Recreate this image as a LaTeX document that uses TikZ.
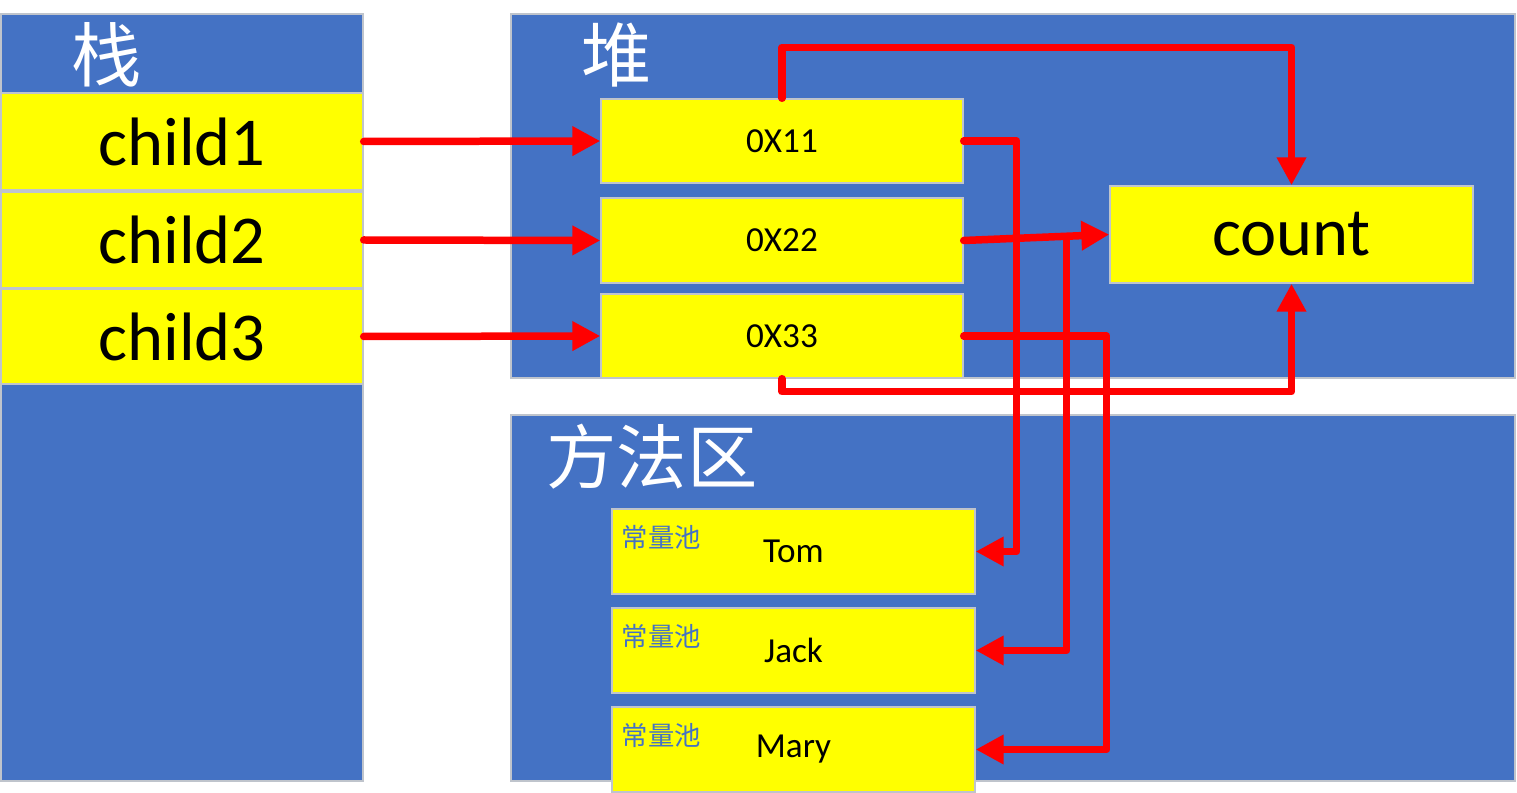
\documentclass[tikz,border=0pt]{standalone}
\usepackage{fontspec}
\setmainfont{Carlito}
\newfontfamily\cjk{Noto Sans CJK SC}
\usetikzlibrary{arrows.meta,fit,calc}
\definecolor{panelblue}{HTML}{4472C4}
\definecolor{boxyellow}{HTML}{FFFF00}
\definecolor{edgegray}{HTML}{BFC4CC}
\definecolor{arrred}{HTML}{FF0000}
\tikzset{
  panel/.style={fill=panelblue, draw=edgegray, line width=0.8pt, inner sep=0pt},
  ybox/.style={fill=boxyellow, draw=edgegray, line width=0.8pt, inner sep=0pt},
  bigtxt/.style={font=\fontsize{39}{44}\selectfont, inner sep=0pt},
  midtxt/.style={font=\fontsize{20}{24}\selectfont, inner sep=0pt},
  ttl/.style={text=white, font=\cjk\fontsize{40}{46}\selectfont, inner sep=0pt},
  pool/.style={text=panelblue, font=\cjk\fontsize{15}{18}\selectfont, inner sep=0pt, anchor=west},
  arr/.style={draw=arrred, line width=0.15cm, line cap=round, line join=round,
    -{Triangle[length=0.56cm,width=0.56cm]}},
}
\begin{document}
\begin{tikzpicture}[x=0.02cm,y=-0.02cm]
\useasboundingbox (0,0) rectangle (1517,793);
% panels
\node[panel, fit={(1,14) (363,781)}] (stack) {};
\node[panel, fit={(511,14) (1515,378)}] (heap) {};
\node[panel, fit={(511,415) (1515,781)}] (method) {};
% titles
\node[ttl] (tstack) at (107,55) {栈};
\node[ttl] (theap) at (617,55) {堆};
\node[ttl] (tmethod) at (652,457) {方法区};
% stack entries
\node[ybox, fit={(1,93) (363,190)}] (c1) {};
\node[ybox, fit={(1,192) (363,288)}] (c2) {};
\node[ybox, fit={(1,289) (363,384)}] (c3) {};
\node[bigtxt] (c1t) at (c1.center) {child1};
\node[bigtxt] (c2t) at (c2.center) {child2};
\node[bigtxt] (c3t) at (c3.center) {child3};
% heap objects
\node[ybox, fit={(601,99) (963,183)}] (h1) {};
\node[ybox, fit={(601,198) (963,283)}] (h2) {};
\node[ybox, fit={(601,294) (963,378)}] (h3) {};
\node[ybox, fit={(1110,186) (1473,283)}] (cnt) {};
\node[midtxt] (h1t) at (h1.center) {0X11};
\node[midtxt] (h2t) at (h2.center) {0X22};
\node[midtxt] (h3t) at (h3.center) {0X33};
\node[bigtxt] (cntt) at (cnt.center) {count};
% constant pool
\node[ybox, fit={(612,509) (975,594)}] (tom) {};
\node[ybox, fit={(612,608) (975,693)}] (jack) {};
\node[ybox, fit={(612,707) (975,792)}] (mary) {};
\node[midtxt] (tomt) at (tom.center) {Tom};
\node[midtxt] (jackt) at (jack.center) {Jack};
\node[midtxt] (maryt) at (mary.center) {Mary};
\node[pool] (p1) at ($(tom.north west)+(10,29)$) {常量池};
\node[pool] (p2) at ($(jack.north west)+(10,29)$) {常量池};
\node[pool] (p3) at ($(mary.north west)+(10,29)$) {常量池};
% arrows stack -> heap
\draw[arr] (c1.east) -- (h1.west);
\draw[arr] (c2.east) -- (h2.west);
\draw[arr] (c3.east) -- (h3.west);
% heap -> count
\draw[arr] (h1.north) -- ++(0,-51) -| (cnt.north);
\draw[arr] (h3.south) -- ++(0,13) -| (cnt.south);
\draw[arr] (h2.east) -- (cnt.west);
% heap -> constant pool
\draw[arr] (h1.east) -- ++(53,0) |- (tom.east);
\draw[arr] ($(h2.east)+(103,0)$) |- (jack.east);
\draw[arr] (h3.east) -- ++(143,0) |- (mary.east);
\end{tikzpicture}
\end{document}
